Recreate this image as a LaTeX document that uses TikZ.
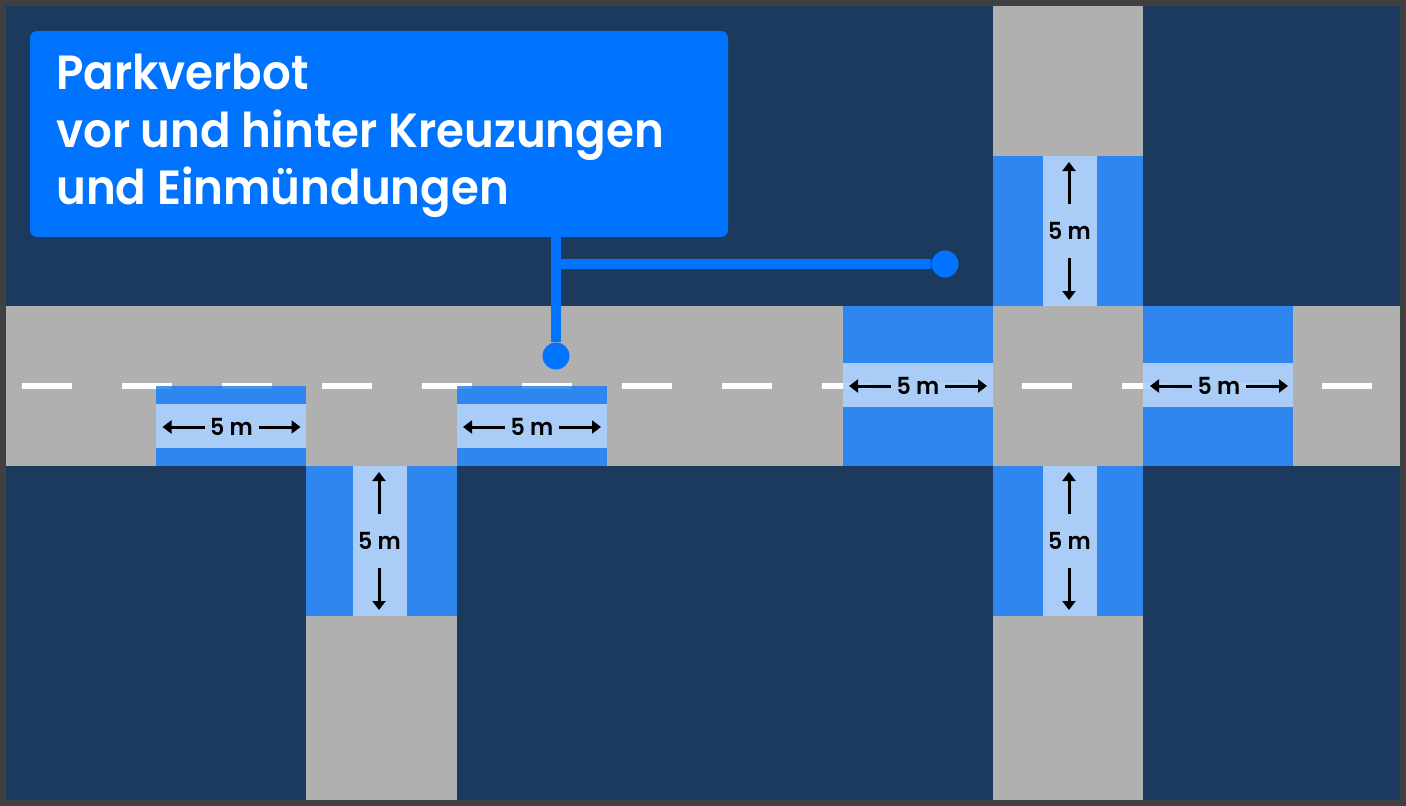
\documentclass[tikz,border=0pt]{standalone}
\usepackage{fontspec}
\setmainfont[BoldFont={Poppins SemiBold},BoldFeatures={FakeStretch=0.94}]{Poppins}
\usetikzlibrary{arrows.meta}
\definecolor{frameC}{HTML}{404040}
\definecolor{navyC}{HTML}{1C3A5E}
\definecolor{roadC}{HTML}{B0B0B0}
\definecolor{zoneC}{HTML}{2E86EE}
\definecolor{lightC}{HTML}{A9CDF7}
\definecolor{calloutC}{HTML}{0073FF}
\tikzset{
  x=1pt,y=-1pt,
  roadfill/.style={fill=roadC,draw=none},
  zonefill/.style={fill=zoneC,draw=none},
  lightfill/.style={fill=lightC,draw=none},
  laneline/.style={draw=white,line width=6pt,dash pattern=on 50pt off 50pt},
  dimlabel/.style={font=\bfseries\fontsize{23.5}{26}\selectfont,text=black,inner sep=0pt},
  dimarrow/.style={draw=black,line width=3pt,-{Triangle[length=9pt,width=13pt]}},
  calloutbox/.style={fill=calloutC,draw=none,rounded corners=7pt,minimum width=698pt,minimum height=206pt,inner sep=0pt},
  calloutline/.style={draw=calloutC,line width=10pt},
  calloutdot/.style={circle,fill=calloutC,draw=none,minimum size=27pt,inner sep=0pt},
  callouttext/.style={font=\bfseries\fontsize{48}{54}\selectfont,text=white,inner sep=0pt,anchor=base west},
}
\newcommand{\hdim}[3]{%
  \node[dimlabel] (#1) at (#2,#3) {5 m};
  \coordinate (#1a) at (#2-27,#3+0.5);\coordinate (#1b) at (#2-69,#3+0.5);
  \coordinate (#1c) at (#2+27,#3+0.5);\coordinate (#1d) at (#2+69,#3+0.5);
  \draw[dimarrow] (#1a) -- (#1b);
  \draw[dimarrow] (#1c) -- (#1d);
}
\newcommand{\vdim}[3]{%
  \node[dimlabel] (#1) at (#2,#3) {5 m};
  \coordinate (#1a) at (#2-0.5,#3-27);\coordinate (#1b) at (#2-0.5,#3-69);
  \coordinate (#1c) at (#2-0.5,#3+27);\coordinate (#1d) at (#2-0.5,#3+69);
  \draw[dimarrow] (#1a) -- (#1b);
  \draw[dimarrow] (#1c) -- (#1d);
}
\begin{document}
\begin{tikzpicture}
\useasboundingbox (0,0) rectangle (1406,806);
\fill[frameC] (0,0) rectangle (1406,806);
\fill[navyC] (5.6,6) rectangle (1400.4,800);
% roads
\fill[roadfill] (5.6,306.4) rectangle (1400.4,466.4);
\fill[roadfill] (306.4,466) rectangle (456.7,800);
\fill[roadfill] (993.2,6) rectangle (1143.4,800);
% lane line
\draw[laneline] (22,386) -- (1372,386);
% zones on the main road
\fill[zonefill] (156,386) rectangle (306.4,466.4);
\fill[lightfill] (156,404) rectangle (306.4,448);
\fill[zonefill] (456.8,386) rectangle (607,466.4);
\fill[lightfill] (456.8,404) rectangle (607,448);
\fill[zonefill] (842.8,306.4) rectangle (993.2,466.4);
\fill[lightfill] (842.8,363.4) rectangle (993.2,407.4);
\fill[zonefill] (1143.4,306.4) rectangle (1293.4,466.4);
\fill[lightfill] (1143.4,363.4) rectangle (1293.4,407.4);
% zones on the side roads
\fill[zonefill] (306.4,466.4) rectangle (456.7,616.4);
\fill[lightfill] (352.6,466.4) rectangle (406.8,616.4);
\fill[zonefill] (993.2,466.4) rectangle (1143.4,616.4);
\fill[lightfill] (1043,466.4) rectangle (1097,616.4);
\fill[zonefill] (993.2,156.4) rectangle (1143.4,306.4);
\fill[lightfill] (1043,156.4) rectangle (1097,306.4);
% faint trace of the lane line through the zones
\draw[laneline,draw opacity=.12] (22,386) -- (1372,386);
% dimensions
\hdim{da}{231.5}{426.5}
\hdim{db}{532}{426.5}
\hdim{dc}{918}{385.5}
\hdim{dd}{1219}{385.5}
\vdim{de}{379.5}{541}
\vdim{df}{1069.5}{541}
\vdim{dg}{1069.5}{231}
% callout
\node[calloutbox] (box) at (379,134) {};
\node[calloutdot] (dotA) at (556,356) {};
\node[calloutdot] (dotB) at (945,264) {};
\coordinate (join) at (dotA |- dotB);
\draw[calloutline] (box.south -| dotA) -- (dotA);
\draw[calloutline] (join) -- (dotB);
\node[callouttext] (t1) at (56,89) {Parkverbot};
\node[callouttext] (t2) at (56,147) {vor und hinter Kreuzungen};
\node[callouttext] (t3) at (56,204) {und Einmündungen};
\end{tikzpicture}
\end{document}
